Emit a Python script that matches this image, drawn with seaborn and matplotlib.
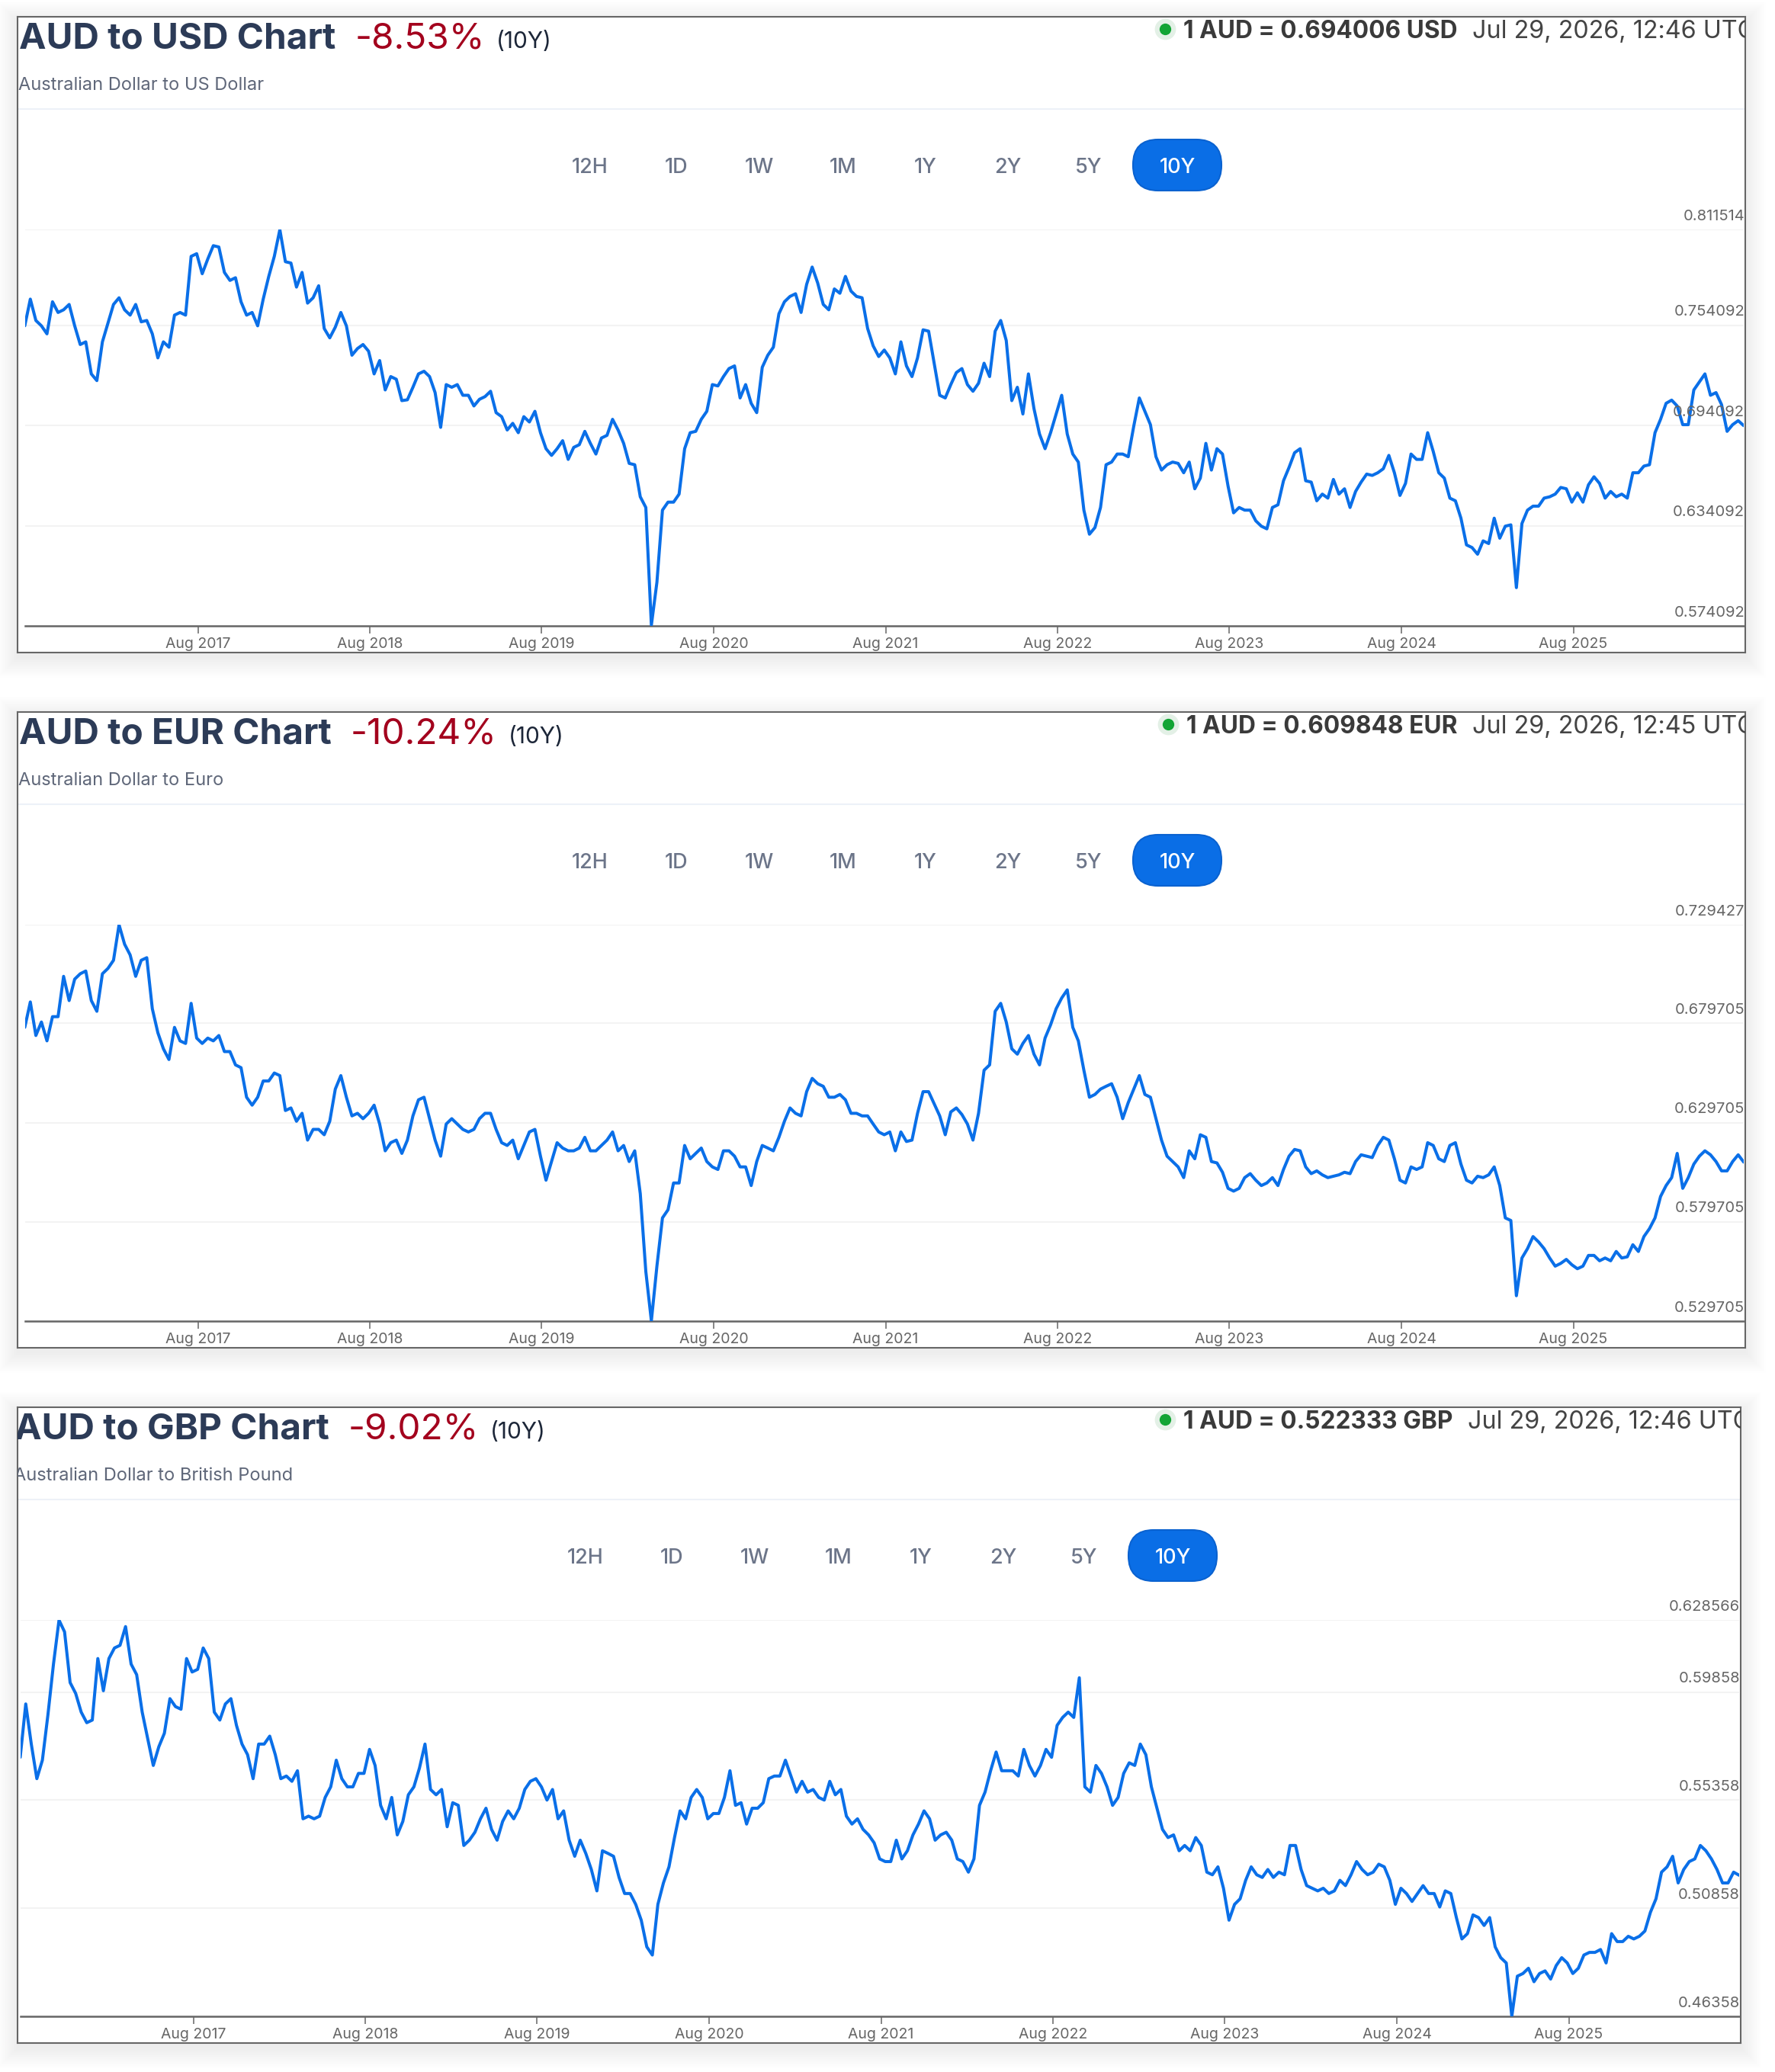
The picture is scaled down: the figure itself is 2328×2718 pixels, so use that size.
import numpy as np
import pandas as pd
import matplotlib
matplotlib.use("Agg")
import matplotlib.pyplot as plt
import seaborn as sns
from matplotlib.patches import Rectangle, FancyBboxPatch

# ---------------- data ----------------
START_DATE = "2016-07-29"
END_DATE = "2026-07-29"

aud_usd = [
    .7538, .7698, .7570, .7538, .7490, .7682, .7618, .7634, .7666, .7538,
    .7426, .7442, .7250, .7210, .7442, .7554, .7666, .7706, .7634, .7602,
    .7666, .7562, .7570, .7490, .7346, .7442, .7410, .7602, .7618, .7602,
    .7954, .7970, .7850, .7938, .8018, .8010, .7858, .7810, .7826, .7682,
    .7602, .7618, .7538, .7698, .7834, .7954, .8114, .7922, .7914, .7770,
    .7858, .7674, .7706, .7778, .7522, .7466, .7530, .7618, .7538, .7362,
    .7402, .7426, .7386, .7250, .7330, .7154, .7234, .7218, .7090, .7095,
    .7170, .7250, .7266, .7234, .7138, .6930, .7186, .7170, .7186, .7122,
    .7122, .7058, .7098, .7114, .7146, .7018, .6994, .6914, .6954, .6898,
    .6994, .6962, .7026, .6898, .6802, .6762, .6802, .6850, .6738, .6810,
    .6826, .6906, .6834, .6770, .6866, .6882, .6978, .6914, .6834, .6714,
    .6706, .6514, .6450, .5745, .6002, .6434, .6482, .6482, .6530, .6802,
    .6898, .6906, .6978, .7026, .7186, .7178, .7234, .7282, .7298, .7106,
    .7186, .7074, .7018, .7290, .7362, .7410, .7610, .7682, .7714, .7730,
    .7618, .7786, .7890, .7794, .7666, .7634, .7759, .7733, .7834, .7746,
    .7714, .7706, .7522, .7418, .7354, .7393,
    .7346, .7250, .7442, .7298, .7234, .7346, .7514, .7506, .7314, .7122,
    .7106, .7186, .7258, .7282, .7186, .7146, .7194, .7314, .7234, .7506,
    .7570, .7450, .7090, .7170, .7010, .7250, .7042, .6890, .6802, .6898,
    .7010, .7122, .6890, .6770, .6722, .6434, .6290, .6330, .6450, .6706,
    .6722, .6770, .6770, .6754, .6938, .7106, .7026, .6946, .6754, .6674,
    .6706, .6722, .6714, .6658, .6722, .6562, .6626, .6834, .6674, .6802,
    .6770, .6578, .6418, .6450, .6434, .6434, .6370, .6338, .6322, .6450,
    .6466, .6610, .6690, .6778, .6802, .6610, .6602, .6490, .6530, .6506,
    .6618, .6530, .6562, .6450, .6546, .6602, .6650, .6642, .6658, .6682,
    .6762, .6658, .6522, .6594, .6770, .6738, .6738, .6898, .6786, .6658,
    .6626, .6506, .6490, .6386, .6226, .6210, .6170, .6250, .6234, .6386,
    .6266, .6338, .6346, .5970, .6354, .6434, .6458, .6458, .6506, .6514,
    .6530, .6570, .6562, .6482, .6538, .6482, .6586, .6634, .6594, .6506,
    .6546, .6514, .6530, .6506, .6658, .6658, .6698, .6706, .6898, .6978,
    .7074, .7093, .7058, .6946, .6946, .7154, .7202, .7250, .7122, .7138,
    .7066, .6906, .6946, .6970, .6940,
]

aud_eur = [
    .6777, .6905, .6736, .6804, .6709, .6831, .6831, .7034, .6912, .7020,
    .7047, .7061, .6912, .6858, .7047, .7074, .7115, .7294, .7196, .7142,
    .7034, .7115, .7128, .6871, .6750, .6669, .6615, .6777, .6709, .6696,
    .6898, .6723, .6696, .6723, .6709, .6736, .6655, .6655, .6588, .6574,
    .6425, .6385, .6425, .6507, .6507, .6547, .6534, .6358, .6371, .6304,
    .6344, .6209, .6263, .6263, .6236, .6304, .6466, .6534, .6425, .6331,
    .6344, .6317, .6344, .6385, .6290, .6155, .6196, .6209, .6142, .6209,
    .6331, .6412, .6425, .6317, .6209, .6128, .6290, .6317, .6290, .6263,
    .6250, .6263, .6317, .6344, .6344, .6263, .6196, .6182, .6209, .6115,
    .6182, .6250, .6263, .6128, .6007, .6101, .6196, .6169, .6155, .6155,
    .6169, .6223, .6155, .6155, .6182, .6209, .6250, .6155, .6182, .6101,
    .6155, .5939, .5547, .5298, .5574, .5817, .5858, .5993, .5993, .6182,
    .6115, .6142, .6169, .6101, .6074, .6061, .6155, .6155, .6128, .6074,
    .6074, .5980, .6101, .6182, .6169, .6155, .6223, .6304, .6371, .6344,
    .6331, .6453, .6520, .6493, .6480, .6425, .6425, .6439, .6412, .6344,
    .6344, .6331, .6331, .6290, .6250, .6236,
    .6250, .6155, .6250, .6202, .6209, .6344, .6453, .6453, .6392, .6331,
    .6236, .6351, .6371, .6338, .6290, .6209, .6344, .6561, .6588, .6858,
    .6898, .6804, .6669, .6642, .6696, .6736, .6642, .6588, .6723, .6790,
    .6871, .6925, .6966, .6777, .6709, .6561, .6425, .6439, .6466, .6480,
    .6493, .6425, .6317, .6398, .6466, .6534, .6439, .6425, .6317, .6209,
    .6128, .6101, .6074, .6020, .6155, .6115, .6236, .6223, .6101, .6094,
    .6047, .5966, .5952, .5966, .6020, .6040, .6007, .5980, .5993, .6020,
    .5980, .6061, .6128, .6162, .6155, .6074, .6040, .6054, .6034, .6020,
    .6027, .6034, .6047, .6040, .6101, .6135, .6128, .6121, .6182, .6223,
    .6209, .6115, .6007, .5993, .6074, .6061, .6074, .6196, .6182, .6115,
    .6101, .6182, .6196, .6088, .6007, .5993, .6027, .6020, .6034, .6074,
    .5980, .5817, .5804, .5425, .5615, .5662, .5723, .5696, .5662, .5615,
    .5574, .5588, .5608, .5581, .5561, .5574, .5628, .5628, .5601, .5615,
    .5601, .5648, .5615, .5621, .5682, .5648, .5723, .5763, .5817, .5925,
    .5980, .6020, .6142, .5966, .6020, .6088, .6128, .6155, .6135, .6101,
    .6054, .6054, .6101, .6135, .6098,
]

aud_gbp = [
    .5714, .5936, .5769, .5625, .5702, .5891, .6102, .6285, .6236, .6025,
    .5980, .5902, .5858, .5869, .6125, .5991, .6125, .6169, .6180, .6258,
    .6102, .6058, .5902, .5791, .5680, .5758, .5814, .5958, .5925, .5914,
    .6125, .6069, .6080, .6169, .6125, .5902, .5869, .5936, .5958, .5847,
    .5769, .5725, .5625, .5769, .5769, .5802, .5725, .5625, .5636, .5614,
    .5658, .5458, .5469, .5458, .5469, .5547, .5591, .5702, .5625, .5591,
    .5591, .5647, .5647, .5747, .5680, .5514, .5458, .5547, .5391, .5447,
    .5558, .5591, .5669, .5769, .5580, .5558, .5580, .5425, .5525, .5514,
    .5347, .5369, .5402, .5458, .5502, .5414, .5369, .5447, .5491, .5458,
    .5502, .5580, .5614, .5625, .5591, .5536, .5580, .5458, .5491, .5369,
    .5302, .5369, .5314, .5247, .5158, .5325, .5314, .5302, .5214, .5147,
    .5147, .5102, .5036, .4925, .4891, .5102, .5191, .5258, .5380, .5491,
    .5458, .5547, .5580, .5547, .5458, .5480, .5480, .5547, .5658, .5514,
    .5525, .5436, .5502, .5502, .5525, .5625, .5636, .5636, .5702, .5636,
    .5569, .5614, .5569, .5580, .5547, .5536, .5614, .5558, .5580, .5469,
    .5436, .5458, .5414, .5391, .5358, .5291,
    .5280, .5280, .5369, .5291, .5325, .5391, .5436, .5491, .5458, .5369,
    .5391, .5402, .5369, .5291, .5280, .5236, .5291, .5514, .5569, .5658,
    .5736, .5658, .5658, .5658, .5636, .5747, .5680, .5636, .5680, .5747,
    .5714, .5847, .5880, .5902, .5880, .6045, .5591, .5569, .5680, .5647,
    .5591, .5514, .5547, .5647, .5691, .5680, .5769, .5725, .5591, .5502,
    .5414, .5380, .5391, .5325, .5347, .5325, .5380, .5347, .5236, .5225,
    .5258, .5169, .5036, .5102, .5125, .5202, .5258, .5225, .5214, .5247,
    .5214, .5236, .5225, .5347, .5347, .5247, .5180, .5169, .5158, .5169,
    .5147, .5158, .5202, .5180, .5225, .5280, .5247, .5225, .5236, .5269,
    .5258, .5202, .5102, .5169, .5147, .5114, .5147, .5180, .5147, .5147,
    .5091, .5158, .5147, .5047, .4958, .4980, .5058, .5047, .5014, .5047,
    .4925, .4880, .4858, .4636, .4803, .4814, .4836, .4780, .4814, .4825,
    .4791, .4847, .4880, .4858, .4814, .4836, .4891, .4902, .4902, .4914,
    .4858, .4980, .4947, .4947, .4969, .4958, .4969, .4991, .5069, .5125,
    .5236, .5258, .5302, .5191, .5247, .5280, .5291, .5347, .5325, .5291,
    .5247, .5191, .5191, .5236, .5223,
]

x_tick_dates = ["2017-08-01", "2018-08-01", "2019-08-01", "2020-08-01", "2021-08-01",
                "2022-08-01", "2023-08-01", "2024-08-01", "2025-08-01"]
x_tick_labels = ["Aug 2017", "Aug 2018", "Aug 2019", "Aug 2020", "Aug 2021",
                 "Aug 2022", "Aug 2023", "Aug 2024", "Aug 2025"]

usd_ticks = [0.574092, 0.634092, 0.694092, 0.754092, 0.811514]
usd_tick_labels = ["0.574092", "0.634092", "0.694092", "0.754092", "0.811514"]
eur_ticks = [0.529705, 0.579705, 0.629705, 0.679705, 0.729427]
eur_tick_labels = ["0.529705", "0.579705", "0.629705", "0.679705", "0.729427"]
gbp_ticks = [0.46358, 0.50858, 0.55358, 0.59858, 0.628566]
gbp_tick_labels = ["0.46358", "0.50858", "0.55358", "0.59858", "0.628566"]

titles = ["AUD to USD Chart", "AUD to EUR Chart", "AUD to GBP Chart"]
changes = ["-8.53%", "-10.24%", "-9.02%"]
periods = ["(10Y)", "(10Y)", "(10Y)"]
subtitles = ["Australian Dollar to US Dollar", "Australian Dollar to Euro",
             "Australian Dollar to British Pound"]
rates = ["1 AUD = 0.694006 USD", "1 AUD = 0.609848 EUR", "1 AUD = 0.522333 GBP"]
stamps = ["Jul 29, 2026, 12:46 UTC", "Jul 29, 2026, 12:45 UTC", "Jul 29, 2026, 12:46 UTC"]
range_buttons = ["12H", "1D", "1W", "1M", "1Y", "2Y", "5Y", "10Y"]
active_button = "10Y"

series = [aud_usd, aud_eur, aud_gbp]
tick_sets = [(usd_ticks, usd_tick_labels), (eur_ticks, eur_tick_labels),
             (gbp_ticks, gbp_tick_labels)]

# ---------------- style ----------------
sns.set_style("white")
plt.rcParams["font.family"] = ["Inter", "DejaVu Sans"]

W, H = 2328, 2718
fig = plt.figure(figsize=(W / 100, H / 100), dpi=100)
fig.patch.set_facecolor("white")
renderer = fig.canvas.get_renderer()

LINE_COLOR = "#0a6fe8"
TITLE_COLOR = "#2c3b57"
RED = "#a3001d"
GREY_TXT = "#666666"

# shadow layer
sh = fig.add_axes([0, 0, 1, 1], zorder=0)
sh.set_xlim(0, W)
sh.set_ylim(H, 0)
sh.axis("off")

layout = [dict(dy=0, dx=0, right=2289),
          dict(dy=912, dx=0, right=2289),
          dict(dy=1824, dx=-6, right=2283)]

button_x = [774, 887, 996, 1106, 1214, 1322, 1428, 1544]

for p, (vals, (yt, ytl)) in enumerate(zip(series, tick_sets)):
    dy = layout[p]["dy"]
    dx = layout[p]["dx"]
    R = layout[p]["right"]
    top, bot, left = 22 + dy, 856 + dy, 23

    # soft shadow
    for k in np.arange(1, 28, 1.5):
        sh.add_patch(Rectangle((left - k, top - k + 6), (R - left) + 2 * k, (bot - top) + 2 * k,
                               facecolor="black", alpha=0.005, linewidth=0))

    bg = fig.add_axes([left / W, 1 - bot / H, (R - left) / W, (bot - top) / H], zorder=1)
    bg.set_xlim(left, R)
    bg.set_ylim(bot, top)
    bg.set_facecolor("white")
    bg.set_xticks([])
    bg.set_yticks([])
    for s in bg.spines.values():
        s.set_color("#666666")
        s.set_linewidth(1.5)
        s.set_visible(True)

    # title line
    t1 = bg.text(25 + dx, 63 + dy, titles[p], fontsize=34.3, fontweight="bold",
                 color=TITLE_COLOR, va="baseline", ha="left", clip_on=True)
    bb = t1.get_window_extent(renderer)
    t2 = bg.text(bb.x1 + 25, 63 + dy, changes[p], fontsize=34.3, color=RED,
                 va="baseline", ha="left", clip_on=True)
    bb = t2.get_window_extent(renderer)
    bg.text(bb.x1 + 15, 63 + dy, periods[p], fontsize=21.5, color="#1c2638",
            va="baseline", ha="left", clip_on=True)

    bg.text(24 + dx, 118 + dy, subtitles[p], fontsize=17, color="#5f6779",
            va="baseline", ha="left", clip_on=True)

    bg.plot([left, R], [143 + dy, 143 + dy], color="#edf1f8", lw=1.5, solid_capstyle="butt")

    # live rate + timestamp
    tr = bg.text(1912 + dx, 50 + dy, rates[p], fontsize=22.8, fontweight="bold",
                 color="#3a3a3a", va="baseline", ha="right", clip_on=True)
    bg.text(1931 + dx, 50 + dy, stamps[p], fontsize=23.3, color="#444444",
            va="baseline", ha="left", clip_on=True)
    bbr = tr.get_window_extent(renderer)
    dot_x = bbr.x0 - 25
    bg.plot([dot_x], [38 + dy], marker="o", markersize=20, color="#e3f0e6",
            markeredgewidth=0)
    bg.plot([dot_x], [38 + dy], marker="o", markersize=11, color="#12a535",
            markeredgewidth=0)

    # range buttons
    for lab, bx in zip(range_buttons, button_x):
        if lab == active_button:
            bg.add_patch(FancyBboxPatch((bx + dx - 58, 183 + dy), 116, 67,
                                        boxstyle="round,pad=0,rounding_size=33",
                                        facecolor="#0a6ee6", edgecolor="#0a62d0", lw=1.5))
            bg.text(bx + dx, 227 + dy, lab, fontsize=19.5, color="white",
                    ha="center", va="baseline", fontweight="medium")
        else:
            bg.text(bx + dx, 227 + dy, lab, fontsize=19.5, color="#6c7589",
                    ha="center", va="baseline", fontweight="medium")

    # ------------- the chart itself -------------
    ax = fig.add_axes([(32.5 + dx) / W, 1 - (821 + dy) / H, 2254.5 / W, 520 / H], zorder=2)
    ax.patch.set_alpha(0)
    df = pd.DataFrame({"date": pd.date_range(START_DATE, END_DATE, periods=len(vals)),
                       "rate": vals})
    sns.lineplot(data=df, x="date", y="rate", ax=ax, color=LINE_COLOR, linewidth=2.9,
                 estimator=None, zorder=3)
    ax.set_xlim(pd.Timestamp(START_DATE), pd.Timestamp(END_DATE))
    ax.set_ylim(yt[0], yt[-1])
    ax.set_xlabel("")
    ax.set_ylabel("")

    ax.set_yticks(yt)
    ax.tick_params(axis="y", length=0, labelleft=False, labelright=False)
    ax.grid(axis="y", color="#f3f3f3", linewidth=1.5)
    ax.grid(axis="x", visible=False)
    for v, lab in zip(yt, ytl):
        ax.annotate(lab, xy=(1, v), xycoords=ax.get_yaxis_transform(),
                    xytext=(0.8, 6), textcoords="offset points", ha="right", va="bottom",
                    fontsize=14.5, color=GREY_TXT, annotation_clip=False)

    ax.set_xticks(pd.to_datetime(x_tick_dates))
    ax.set_xticklabels(x_tick_labels)
    ax.tick_params(axis="x", length=7.2, width=1.1, color="#666666", labelsize=14,
                   labelcolor=GREY_TXT, pad=3.5, direction="out", bottom=True)
    for side in ["top", "left", "right"]:
        ax.spines[side].set_visible(False)
    ax.spines["bottom"].set_color("#666666")
    ax.spines["bottom"].set_linewidth(1.8)

fig.savefig("out.png", dpi=100, facecolor="white")
